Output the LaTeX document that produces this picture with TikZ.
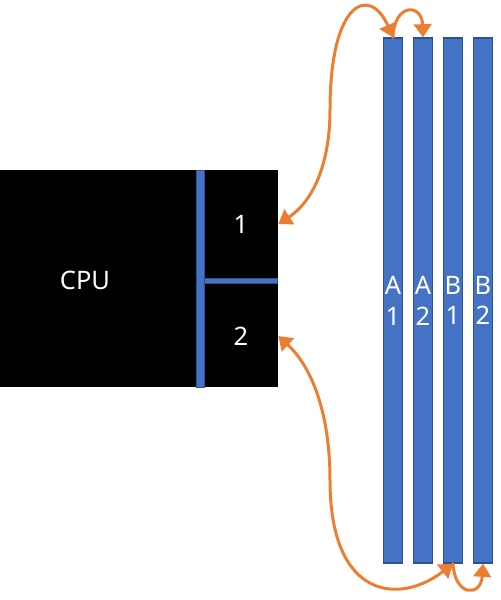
\documentclass[tikz,border=0pt]{standalone}
\usepackage{fontspec}
\setmainfont{Noto Sans}
\usetikzlibrary{arrows.meta}
\usepackage{xcolor}
\definecolor{dimmblue}{RGB}{68,114,196}
\definecolor{dimmedge}{RGB}{47,82,143}
\definecolor{lorange}{RGB}{237,125,49}

\begin{document}
\begin{tikzpicture}[x=0.02cm, y=-0.02cm,
  every node/.append style={text=white, font=\fontsize{14.5}{17.5}\selectfont},
  slot/.style={draw=dimmedge, fill=dimmblue, line width=0.8pt, minimum width=0.38cm, minimum height=10.5cm, inner sep=0pt, align=center},
  chan/.style={minimum width=1.48cm, minimum height=2.16cm, inner sep=0pt},
  link/.style={draw=lorange, line width=1.7pt, line cap=round},
  tip/.tip={Triangle[width=10pt,length=7.5pt]}]
  \useasboundingbox (0,0) rectangle (501,600);
  % cpu and its two channels
  \node [fill=black, minimum width=5.56cm, minimum height=4.34cm, inner sep=0pt] (cpu) at (139,278.5) {};
  \node (cpulabel) at (85,280) {CPU};
  \fill [dimmblue, draw=dimmedge, line width=0.3pt] (196,170) rectangle (204,387);
  \fill [dimmblue, draw=dimmedge, line width=0.3pt] (204,278) rectangle (277,283);
  \node [chan] (ch1) at (241,224) {1};
  \node [chan] (ch2) at (241,336) {2};
  % dimm slots
  \foreach \bank/\num/\x in {A/1/393, A/2/423, B/1/453, B/2/483}
    \node [slot] (\bank\num) at (\x,300.5) {\bank\\\num};
  % links
  \draw [link, tip-tip] (ch1.east) .. controls (315,200) and (330,160) .. (330,110)
    .. controls (330,0) and (370,-15) .. (A1.north);
  \draw [link, -tip] (A1.north) .. controls (394,3) and (422,3) .. (A2.north);
  \draw [link, tip-tip] (ch2.east) .. controls (315,370) and (330,420) .. (330,480)
    .. controls (330,600) and (400,605) .. (B1.south);
  \draw [link, -tip] (B1.south) .. controls (455,597) and (481,597) .. (B2.south);
\end{tikzpicture}
\end{document}
